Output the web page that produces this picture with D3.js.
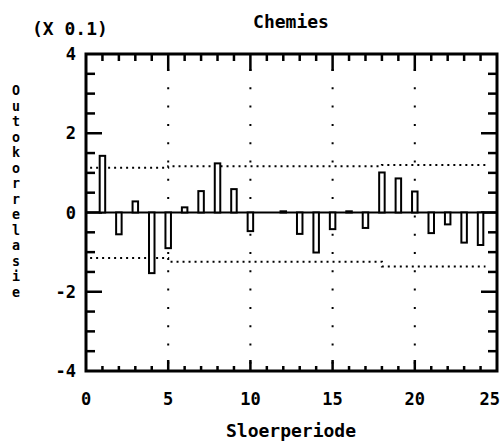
<!DOCTYPE html>
<html>
<head>
<meta charset="utf-8">
<script src="https://cdn.jsdelivr.net/npm/d3@7"></script>
<style>
  body { margin: 0; background: #fff; }
  text { font-family: "DejaVu Sans Mono", monospace; font-weight: bold; fill: #000; }
</style>
</head>
<body>
<div id="mainDiv"></div>
<script>
'use strict';

// autocorrelation (x 0.1) per lag
var lags = d3.range(1, 25);
var acf = [1.43, -0.55, 0.28, -1.53, -0.9, 0.13, 0.54, 1.24, 0.59, -0.47, 0.0, 0.03,
           -0.54, -1.01, -0.42, 0.03, -0.39, 1.01, 0.86, 0.53, -0.52, -0.3, -0.76, -0.82];
// confidence limits (dotted lines) as [lag, value]
var upperBand = [[0.25, 1.13], [5, 1.13], [5, 1.17], [18, 1.17], [18, 1.2], [24.3, 1.2]];
var lowerBand = [[0.25, -1.15], [5, -1.15], [5, -1.24], [18, -1.24], [18, -1.36], [24.3, -1.36]];
var xTicks = [0, 5, 10, 15, 20, 25];
var yTicks = [-4, -2, 0, 2, 4];
var yTitle = 'Outokorrelasie';

var myApp = {};
myApp.margins = { top: 54, bottom: 76, left: 86, right: 6 };
myApp.W = 503;
myApp.H = 447;
myApp.cw = myApp.W - myApp.margins.left - myApp.margins.right;
myApp.ch = myApp.H - myApp.margins.top - myApp.margins.bottom;

var cw = myApp.cw, ch = myApp.ch;

var svg = d3.select('#mainDiv').append('svg').attr('width', myApp.W).attr('height', myApp.H);
var g = svg.append('g').attr('transform', 'translate(' + myApp.margins.left + ',' + myApp.margins.top + ')');

var xScale = d3.scaleLinear().domain([0, 25]).range([0, cw]);
var yScale = d3.scaleLinear().domain([-4, 4]).range([ch, 0]);

// vertical dotted grid at 5,10,15,20
g.selectAll('.vgrid').data([5, 10, 15, 20]).enter().append('line')
  .attr('class', 'vgrid')
  .attr('x1', function (d) { return xScale(d); }).attr('x2', function (d) { return xScale(d); })
  .attr('y1', 0).attr('y2', ch)
  .attr('stroke', '#000').attr('stroke-width', 2)
  .attr('stroke-dasharray', '2,16.3').attr('stroke-dashoffset', -15);

// confidence bands
var line = d3.line().x(function (d) { return xScale(d[0]); }).y(function (d) { return yScale(d[1]); });
[upperBand, lowerBand].forEach(function (b) {
  g.append('path').attr('d', line(b)).attr('fill', 'none')
    .attr('stroke', '#000').attr('stroke-width', 2).attr('stroke-dasharray', '2,4');
});

// inward tick marks on all four sides
var xMinor = d3.range(1, 25);
var yMinor = d3.range(-3.5, 4, 0.5);
var tickCol = '#000';

g.selectAll('.tTop').data(xMinor).enter().append('line')
  .attr('class', 'tTop')
  .attr('x1', function (d) { return xScale(d); }).attr('x2', function (d) { return xScale(d); })
  .attr('y1', 0).attr('y2', function (d) { return d % 5 === 0 ? 17 : 7; })
  .attr('stroke', tickCol).attr('stroke-width', 2.5);
g.selectAll('.tBot').data(xMinor).enter().append('line')
  .attr('class', 'tBot')
  .attr('x1', function (d) { return xScale(d); }).attr('x2', function (d) { return xScale(d); })
  .attr('y1', ch).attr('y2', function (d) { return ch - (d % 5 === 0 ? 11 : 5); })
  .attr('stroke', tickCol).attr('stroke-width', 2.5);
g.selectAll('.tLeft').data(yMinor).enter().append('line')
  .attr('class', 'tLeft')
  .attr('y1', function (d) { return yScale(d); }).attr('y2', function (d) { return yScale(d); })
  .attr('x1', 0).attr('x2', function (d) { return d % 2 === 0 ? 16 : 9; })
  .attr('stroke', tickCol).attr('stroke-width', 2.5);
g.selectAll('.tRight').data(yMinor).enter().append('line')
  .attr('class', 'tRight')
  .attr('y1', function (d) { return yScale(d); }).attr('y2', function (d) { return yScale(d); })
  .attr('x1', cw).attr('x2', function (d) { return cw - (d % 2 === 0 ? 16 : 9); })
  .attr('stroke', tickCol).attr('stroke-width', 2.5);

// zero line
g.append('line').attr('x1', 0).attr('x2', cw).attr('y1', yScale(0)).attr('y2', yScale(0))
  .attr('stroke', '#000').attr('stroke-width', 2);

// bars
var bw = 5.5;
g.selectAll('.bar').data(acf).enter().append('rect')
  .attr('class', 'bar')
  .attr('x', function (d, i) { return xScale(lags[i]) - bw / 2; })
  .attr('y', function (d) { return yScale(Math.max(0, d)); })
  .attr('width', bw)
  .attr('height', function (d) { return Math.abs(yScale(d) - yScale(0)); })
  .attr('fill', '#fff').attr('stroke', '#000').attr('stroke-width', 2);

// frame
g.append('rect').attr('width', cw).attr('height', ch)
  .attr('fill', 'none').attr('stroke', '#000').attr('stroke-width', 3);

// tick labels
g.selectAll('.xl').data(xTicks).enter().append('text')
  .attr('class', 'xl')
  .attr('x', function (d) { return d === 25 ? cw + 3 : xScale(d); }).attr('y', ch + 34)
  .attr('text-anchor', function (d) { return d === 25 ? 'end' : 'middle'; })
  .attr('font-size', '17px').text(function (d) { return d; });
g.selectAll('.yl').data(yTicks).enter().append('text')
  .attr('class', 'yl')
  .attr('x', -10).attr('y', function (d) { return yScale(d) + 6; })
  .attr('text-anchor', 'end').attr('font-size', '17px')
  .text(function (d) { return d < 0 ? '-' + Math.abs(d) : d; });

// titles
svg.append('text').attr('x', 32).attr('y', 35).attr('font-size', '18px').text('(X 0.1)');
svg.append('text').attr('x', 291).attr('y', 28).attr('text-anchor', 'middle')
  .attr('font-size', '18px').text('Chemies');
svg.append('text').attr('x', 291).attr('y', 437).attr('text-anchor', 'middle')
  .attr('font-size', '18px').text('Sloerperiode');

// vertical stacked axis title, one letter per text
svg.selectAll('.yt').data(yTitle.split('')).enter().append('text')
  .attr('class', 'yt')
  .attr('x', 16).attr('y', function (d, i) { return 95 + i * 15.5; })
  .attr('text-anchor', 'middle').attr('font-size', '13.3px')
  .text(function (d) { return d; });
</script>
</body>
</html>
